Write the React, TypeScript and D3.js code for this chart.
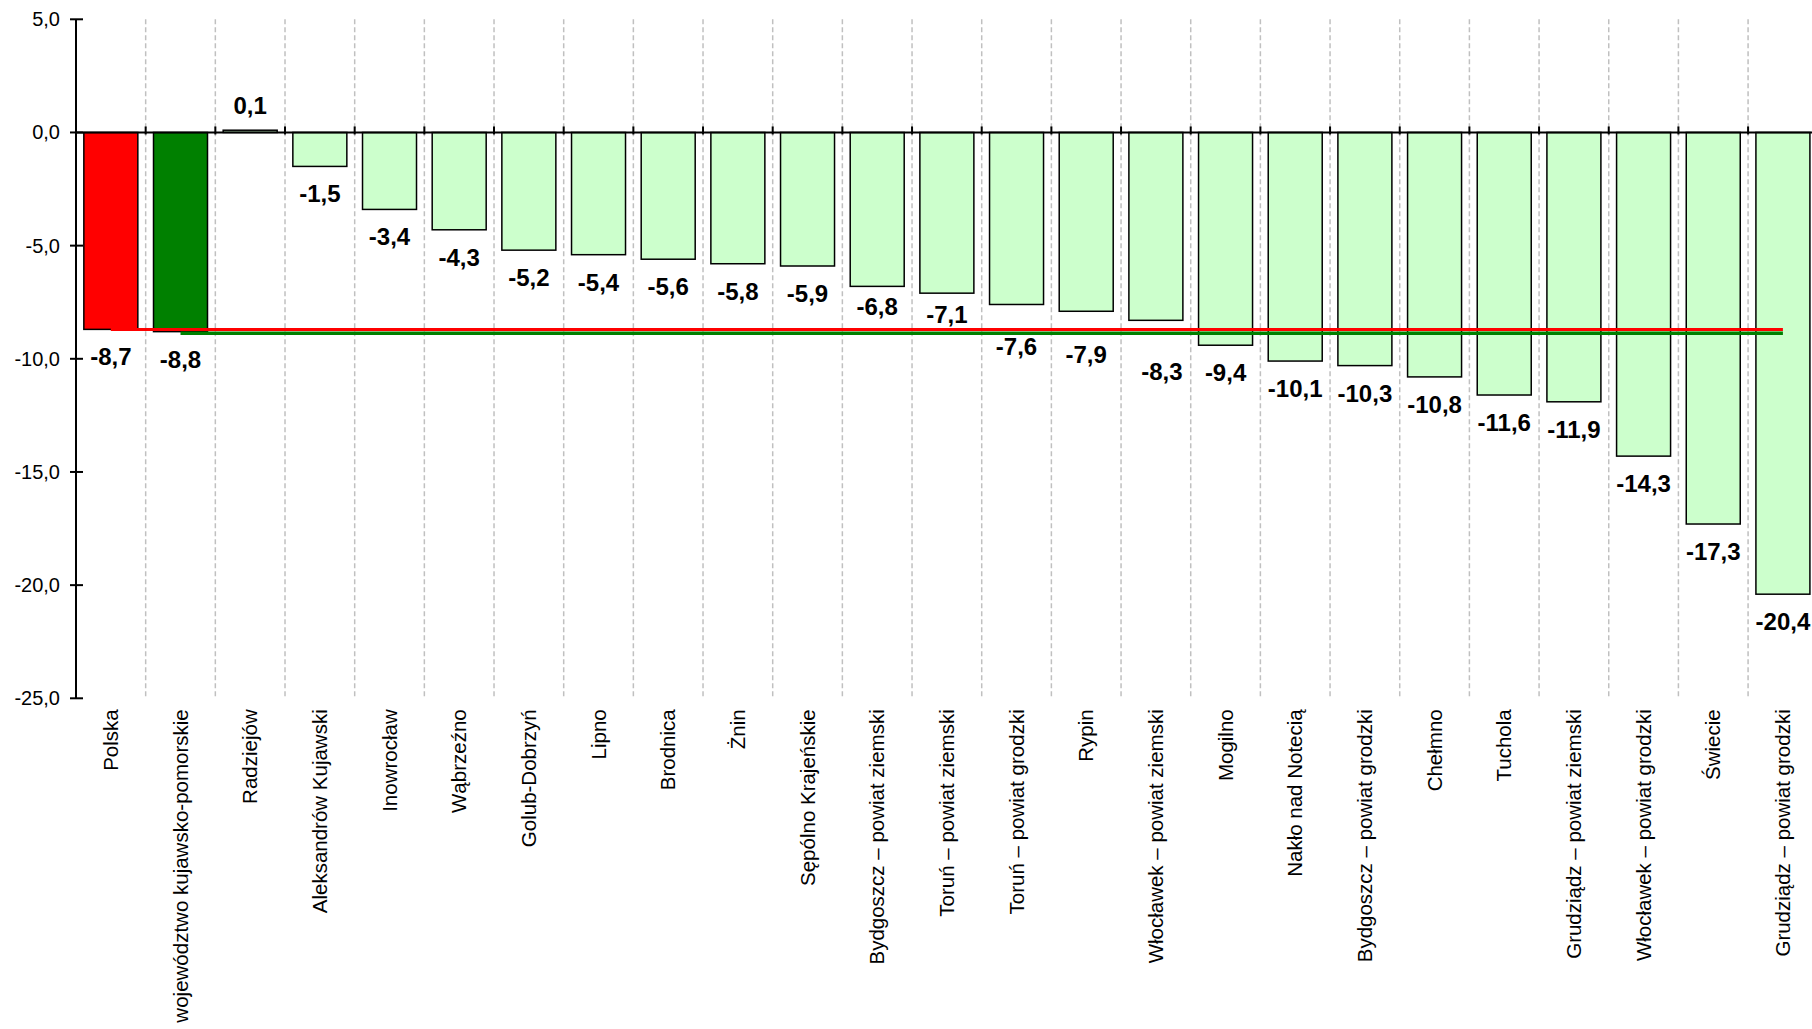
import React from "react";
import * as d3 from "d3";

const categories: string[] = [
  "Polska",
  "województwo kujawsko-pomorskie",
  "Radziejów",
  "Aleksandrów Kujawski",
  "Inowrocław",
  "Wąbrzeźno",
  "Golub-Dobrzyń",
  "Lipno",
  "Brodnica",
  "Żnin",
  "Sępólno Krajeńskie",
  "Bydgoszcz – powiat ziemski",
  "Toruń – powiat ziemski",
  "Toruń – powiat grodzki",
  "Rypin",
  "Włocławek – powiat ziemski",
  "Mogilno",
  "Nakło nad Notecią",
  "Bydgoszcz – powiat grodzki",
  "Chełmno",
  "Tuchola",
  "Grudziądz – powiat ziemski",
  "Włocławek – powiat grodzki",
  "Świecie",
  "Grudziądz – powiat grodzki",
];

const values: number[] = [
  -8.7, -8.8, 0.1, -1.5, -3.4, -4.3, -5.2, -5.4, -5.6, -5.8, -5.9, -6.8, -7.1,
  -7.6, -7.9, -8.3, -9.4, -10.1, -10.3, -10.8, -11.6, -11.9, -14.3, -17.3, -20.4,
];

const polskaAvg = -8.7;
const wojAvg = -8.8;
const yTicks: number[] = [5, 0, -5, -10, -15, -20, -25];

// layout: manual nudges of some value labels (moved off the average lines in the original)
const labelNudgeY: Record<number, number> = { 11: -7, 12: -6, 13: 15, 14: 16, 15: 24 };
const labelNudgeX: Record<number, number> = { 15: 6 };

const W = 1812;
const H = 1029;
const X0 = 76;
const BW = 69.67;
const Y_TOP = 19.3;
const Y_BOT = 698.3;
const FONT = "'Liberation Sans', Arial, sans-serif";

const fmt = (v: number) => v.toFixed(1).replace(".", ",");

export default function App() {
  const x = d3
    .scaleBand<string>()
    .domain(categories)
    .range([X0, X0 + BW * categories.length])
    .padding(0);
  const y = d3.scaleLinear().domain([-25, 5]).range([Y_BOT, Y_TOP]);
  const bw = x.bandwidth();
  const barW = bw * 0.775;
  const cx = (c: string) => (x(c) as number) + bw / 2;

  const fills = (i: number) =>
    i === 0 ? "#ff0000" : i === 1 ? "#008000" : "#ccffcc";

  const boundaries = categories.slice(1).map((c) => x(c) as number);

  const redLine = d3.line<string>().x((c) => cx(c)).y(() => y(polskaAvg));
  const greenLine = d3.line<string>().x((c) => cx(c)).y(() => y(wojAvg));

  return (
    <svg
      width={W}
      height={H}
      style={{ position: "absolute", left: 0, top: 0, display: "block", background: "#fff" }}
      fontFamily={FONT}
    >
      {/* dashed vertical gridlines */}
      {boundaries.map((bx, i) => (
        <line
          key={"g" + i}
          x1={bx}
          x2={bx}
          y1={Y_TOP}
          y2={Y_BOT}
          stroke="#c0c0c0"
          strokeWidth={1.5}
          strokeDasharray="5,3"
        />
      ))}

      {/* bars */}
      {categories.map((c, i) => {
        const v = values[i];
        const y0 = y(0);
        const y1 = y(v);
        return (
          <rect
            key={"b" + i}
            x={cx(c) - barW / 2}
            y={Math.min(y0, y1)}
            width={barW}
            height={Math.abs(y1 - y0)}
            fill={fills(i)}
            stroke="#000"
            strokeWidth={1.5}
          />
        );
      })}

      {/* average lines */}
      <path
        d={greenLine(categories.slice(1)) as string}
        stroke="#008000"
        strokeWidth={3.5}
        fill="none"
        transform="translate(0,1.5)"
      />
      <path
        d={redLine(categories) as string}
        stroke="#ff0000"
        strokeWidth={3}
        fill="none"
      />

      {/* zero line */}
      <line x1={X0} x2={W} y1={y(0)} y2={y(0)} stroke="#000" strokeWidth={2} />
      {boundaries.map((bx, i) => (
        <line
          key={"t" + i}
          x1={bx}
          x2={bx}
          y1={y(0) - 6}
          y2={y(0) + 2}
          stroke="#000"
          strokeWidth={2}
        />
      ))}

      {/* y axis */}
      <line x1={X0} x2={X0} y1={Y_TOP} y2={Y_BOT} stroke="#000" strokeWidth={2} />
      {yTicks.map((t) => (
        <g key={"yt" + t}>
          <line x1={X0 - 6} x2={X0 + 7} y1={y(t)} y2={y(t)} stroke="#000" strokeWidth={2} />
          <text
            x={X0 - 16}
            y={y(t)}
            dy="0.35em"
            textAnchor="end"
            fontSize={20}
            fill="#000"
          >
            {fmt(t)}
          </text>
        </g>
      ))}

      {/* value labels */}
      {categories.map((c, i) => {
        const v = values[i];
        const yy = (v >= 0 ? y(v) - 16 : y(v) + 36) + (labelNudgeY[i] || 0);
        return (
          <text
            key={"v" + i}
            x={cx(c) + (labelNudgeX[i] || 0)}
            y={yy}
            textAnchor="middle"
            fontSize={24}
            fontWeight="bold"
            fill="#000"
          >
            {fmt(v)}
          </text>
        );
      })}

      {/* category labels */}
      {categories.map((c, i) => (
        <text
          key={"c" + i}
          transform={`translate(${cx(c)},${Y_BOT + 11}) rotate(-90)`}
          textAnchor="end"
          dy="0.35em"
          fontSize={20.5}
          fill="#000"
        >
          {c}
        </text>
      ))}
    </svg>
  );
}
